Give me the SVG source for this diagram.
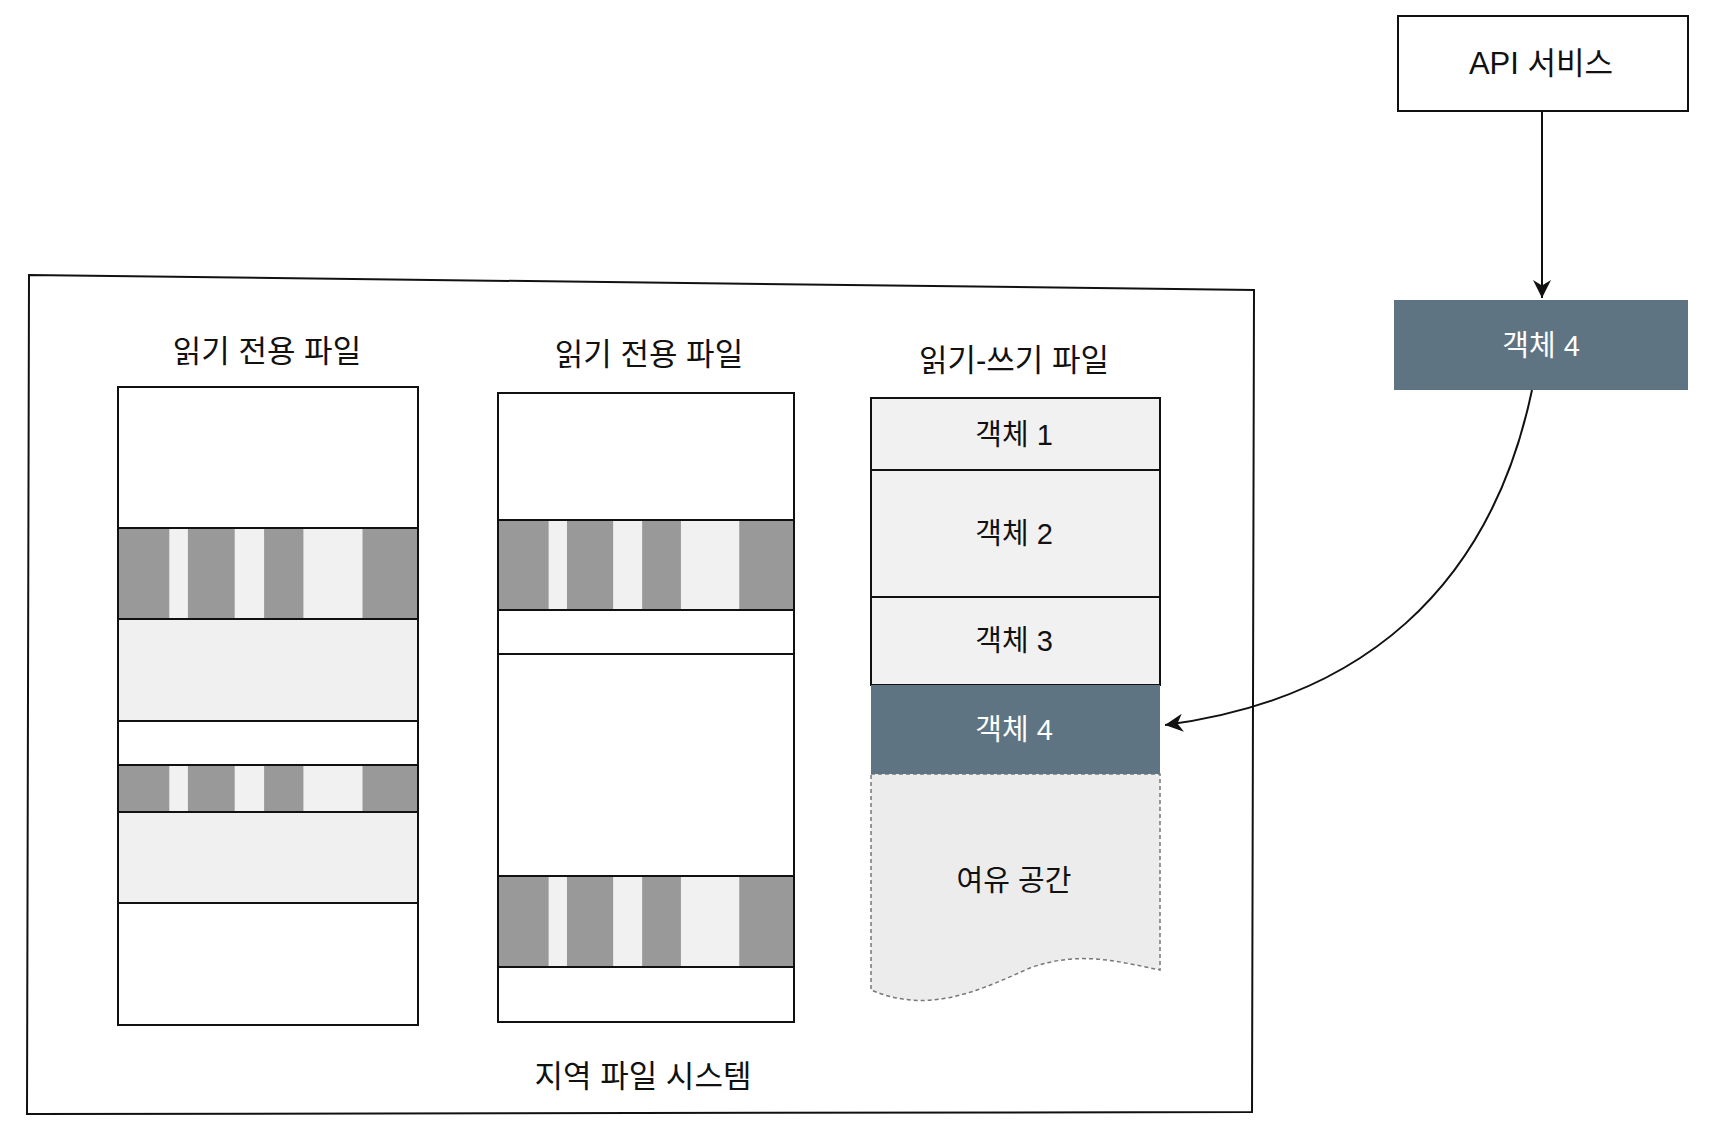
<svg xmlns="http://www.w3.org/2000/svg" width="1710" height="1136" viewBox="0 0 1710 1136">
<style>
text{font-family:"Liberation Sans","Noto Sans CJK KR",sans-serif;text-anchor:middle;fill:#111}
.t{font-size:31px}.o{font-size:29px}.w{fill:#fff}
.b{stroke:#111;stroke-width:2}
</style>
<defs>
<pattern id="st" patternUnits="objectBoundingBox" patternContentUnits="objectBoundingBox" width="1" height="1">
<rect width="1" height="1" fill="#f1f1f1"/>
<rect x="0" width="0.171" height="1" fill="#999"/>
<rect x="0.233" width="0.156" height="1" fill="#999"/>
<rect x="0.487" width="0.131" height="1" fill="#999"/>
<rect x="0.815" width="0.185" height="1" fill="#999"/>
</pattern>
<marker id="ah" viewBox="0 0 10 10" refX="10" refY="5" markerWidth="18" markerHeight="18" markerUnits="userSpaceOnUse" orient="auto"><path d="M0,0L10,5L0,10L3,5Z" fill="#111"/></marker>
</defs>
<rect width="1710" height="1136" fill="#fff"/>
<g id="fs"><polygon points="29,275 1254,290 1252,1112 27,1114" fill="none" class="b"/><text class="t" x="643" y="1087">지역 파일 시스템</text></g>
<g id="ro1">
<text class="t" x="267" y="362">읽기 전용 파일</text>
<rect x="118" y="387" width="300" height="141" fill="#fff" class="b"/>
<rect x="118" y="528" width="300" height="91" fill="url(#st)" class="b"/>
<rect x="118" y="619" width="300" height="102" fill="#f0f0f0" class="b"/>
<rect x="118" y="721" width="300" height="44" fill="#fff" class="b"/>
<rect x="118" y="765" width="300" height="47" fill="url(#st)" class="b"/>
<rect x="118" y="812" width="300" height="91" fill="#f0f0f0" class="b"/>
<rect x="118" y="903" width="300" height="122" fill="#fff" class="b"/>
</g>
<g id="ro2">
<text class="t" x="649" y="365">읽기 전용 파일</text>
<rect x="498" y="393" width="296" height="127" fill="#fff" class="b"/>
<rect x="498" y="520" width="296" height="90" fill="url(#st)" class="b"/>
<rect x="498" y="610" width="296" height="44" fill="#fff" class="b"/>
<rect x="498" y="654" width="296" height="222" fill="#fff" class="b"/>
<rect x="498" y="876" width="296" height="91" fill="url(#st)" class="b"/>
<rect x="498" y="967" width="296" height="55" fill="#fff" class="b"/>
</g>
<g id="rw">
<text class="t" x="1014" y="371">읽기-쓰기 파일</text>
<path d="M871,774 H1160 V970 C1120,962 1080,950 1030,968 C980,990 930,1015 871,990 Z" fill="#ececec" stroke="#777" stroke-width="1.5" stroke-dasharray="4,3"/>
<text class="o" x="1014" y="891">여유 공간</text>
<rect x="871" y="398" width="289" height="72" fill="#f1f1f1" class="b"/><text class="o" x="1014" y="445">객체 1</text>
<rect x="871" y="470" width="289" height="127" fill="#f1f1f1" class="b"/><text class="o" x="1014" y="544">객체 2</text>
<rect x="871" y="597" width="289" height="88" fill="#f1f1f1" class="b"/><text class="o" x="1014" y="651">객체 3</text>
<rect x="871" y="685" width="289" height="89" fill="#5f7482"/><text class="o w" x="1014" y="740">객체 4</text>
</g>
<g id="api"><rect x="1398" y="16" width="290" height="95" fill="#fff" class="b"/><text class="t" x="1541" y="74">API 서비스</text></g>
<g id="obj4"><rect x="1394" y="300" width="294" height="90" fill="#5f7482"/><text class="o w" x="1541" y="356">객체 4</text></g>
<g id="connectors" fill="none" stroke="#111" stroke-width="2">
<path d="M1542,111 V298" marker-end="url(#ah)"/>
<path d="M1532,390 C1490,590 1360,700 1165,725" marker-end="url(#ah)"/>
</g>
</svg>
